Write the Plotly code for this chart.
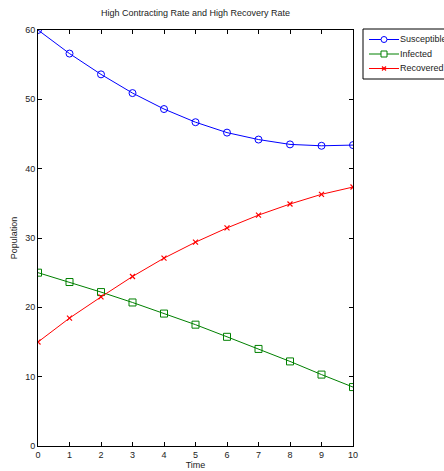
import plotly.graph_objects as go

time = [0, 1, 2, 3, 4, 5, 6, 7, 8, 9, 10]
susceptible = [60, 56.6, 53.6, 50.9, 48.6, 46.7, 45.2, 44.2, 43.5, 43.3, 43.4]
infected = [25, 23.65, 22.2, 20.7, 19.1, 17.5, 15.75, 14.0, 12.2, 10.3, 8.5]
recovered = [15, 18.45, 21.5, 24.45, 27.1, 29.4, 31.45, 33.3, 34.9, 36.3, 37.35]

series_names = ["Susceptible", "Infected", "Recovered"]
series_colors = ["#0000ff", "#008000", "#ff0000"]

x_ticks = list(range(0, 11))
y_ticks = [0, 10, 20, 30, 40, 50, 60]

font = "Liberation Sans, Arial, sans-serif"
W, H = 444, 471
L, R, T, B = 38, 91, 30, 25
PW, PH = W - L - R, H - T - B


def px_x(px):
    return (px - L) / PW


def px_y(py):
    return (H - B - py) / PH


fig = go.Figure()
fig.add_trace(go.Scatter(x=time, y=susceptible, name=series_names[0], mode="lines+markers",
                         line=dict(color=series_colors[0], width=1),
                         marker=dict(symbol="circle-open", size=7, color=series_colors[0], line=dict(width=1))))
fig.add_trace(go.Scatter(x=time, y=infected, name=series_names[1], mode="lines+markers",
                         line=dict(color=series_colors[1], width=1),
                         marker=dict(symbol="square-open", size=7, color=series_colors[1], line=dict(width=1))))
fig.add_trace(go.Scatter(x=time, y=recovered, name=series_names[2], mode="lines+markers",
                         line=dict(color=series_colors[2], width=1),
                         marker=dict(symbol="x-thin-open", size=5, color=series_colors[2], line=dict(width=1.2, color=series_colors[2]))))

axis_common = dict(showline=True, linecolor="black", linewidth=1, mirror="ticks",
                   ticks="inside", ticklen=4, tickcolor="black", tickwidth=1,
                   showgrid=False, zeroline=False,
                   tickfont=dict(family=font, size=9, color="#222"))

fig.update_xaxes(range=[0, 10], tickvals=x_ticks,
                 title=dict(text="Time", font=dict(family=font, size=9, color="#222"), standoff=2), **axis_common)
fig.update_yaxes(range=[0, 60], tickvals=y_ticks,
                 title=dict(text="Population", font=dict(family=font, size=9, color="#222"), standoff=6), **axis_common)

# Manual MATLAB-style legend
shapes = [dict(type="rect", xref="paper", yref="paper",
               x0=px_x(363), x1=px_x(480), y0=px_y(79), y1=px_y(29),
               line=dict(color="black", width=1), fillcolor="white", layer="above")]
annotations = []
row_y = [39.5, 54, 68.5]
mx = 384
for name, color, ry in zip(series_names, series_colors, row_y):
    shapes.append(dict(type="line", xref="paper", yref="paper",
                       x0=px_x(369), x1=px_x(399), y0=px_y(ry), y1=px_y(ry),
                       line=dict(color=color, width=1), layer="above"))
    annotations.append(dict(text=name, xref="paper", yref="paper", x=px_x(398), y=px_y(ry),
                            xanchor="left", yanchor="middle", showarrow=False,
                            font=dict(family=font, size=9, color="#222")))
# legend markers
shapes.append(dict(type="circle", xref="paper", yref="paper", xsizemode="pixel", ysizemode="pixel",
                   xanchor=px_x(mx), yanchor=px_y(row_y[0]), x0=-3, x1=3, y0=-3, y1=3,
                   line=dict(color=series_colors[0], width=1), fillcolor="white", layer="above"))
shapes.append(dict(type="rect", xref="paper", yref="paper", xsizemode="pixel", ysizemode="pixel",
                   xanchor=px_x(mx), yanchor=px_y(row_y[1]), x0=-3, x1=3, y0=-3, y1=3,
                   line=dict(color=series_colors[1], width=1), fillcolor="white", layer="above"))
for sgn in (1, -1):
    shapes.append(dict(type="line", xref="paper", yref="paper", xsizemode="pixel", ysizemode="pixel",
                       xanchor=px_x(mx), yanchor=px_y(row_y[2]), x0=-2, x1=2, y0=-2 * sgn, y1=2 * sgn,
                       line=dict(color=series_colors[2], width=1.2), layer="above"))

fig.update_layout(
    width=W, height=H,
    margin=dict(l=L, r=R, t=T, b=B, autoexpand=False),
    plot_bgcolor="white", paper_bgcolor="white",
    title=dict(text="High Contracting Rate and High Recovery Rate", x=0.5, xref="paper",
               y=1 - 13 / H, yanchor="middle",
               font=dict(family=font, size=9, color="#222")),
    showlegend=False,
    shapes=shapes,
    annotations=annotations,
)

fig.write_html("out.html", config={"displayModeBar": False},
               post_script="document.body.style.margin='0px';document.body.style.overflow='hidden';")
